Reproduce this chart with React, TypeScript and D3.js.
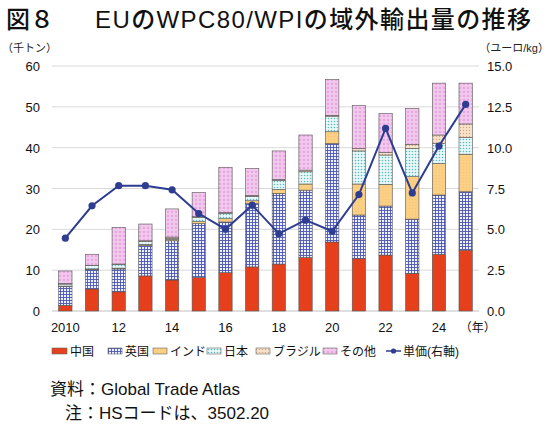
import React from 'react';
import * as d3 from 'd3';

const years = ['2010', '2011', '2012', '2013', '2014', '2015', '2016', '2017', '2018', '2019', '2020', '2021', '2022', '2023', '2024', '2025'];
const xTickLabels = ['2010', '', '12', '', '14', '', '16', '', '18', '', '20', '', '22', '', '24', ''];

// 千トン
const china = [1.4, 5.4, 4.7, 8.6, 7.6, 8.2, 9.4, 10.8, 11.5, 13.1, 16.9, 12.8, 13.7, 9.2, 13.9, 14.9];
const uk = [4.6, 4.7, 5.6, 7.4, 9.6, 13.2, 12.4, 15.5, 17.3, 16.5, 24.1, 10.7, 12.0, 13.3, 14.5, 14.3];
const india = [0.1, 0.2, 0.2, 0.3, 0.3, 0.5, 0.8, 0.7, 1.0, 1.5, 2.9, 7.6, 5.3, 10.4, 7.7, 9.2];
const japan = [0.5, 0.8, 0.9, 0.7, 0.2, 1.0, 1.3, 1.1, 2.2, 3.0, 3.7, 8.1, 7.2, 6.9, 4.9, 4.1];
const brazil = [0.1, 0.1, 0.1, 0.2, 0.4, 0.2, 0.2, 0.2, 0.2, 0.4, 0.3, 0.6, 0.6, 1.0, 2.1, 3.3];
const others = [3.1, 2.7, 9.0, 4.1, 6.9, 5.9, 11.1, 6.6, 7.0, 8.6, 8.8, 10.5, 9.6, 8.8, 12.7, 10.0];
// ユーロ/kg
const unitPrice = [4.46, 6.44, 7.67, 7.67, 7.42, 5.97, 5.01, 6.48, 4.74, 5.56, 4.88, 7.13, 11.18, 7.23, 10.1, 12.65];

const leftTicks = [0, 10, 20, 30, 40, 50, 60];
const rightTicks = [0, 2.5, 5, 7.5, 10, 12.5, 15];

const seriesNames = ['中国', '英国', 'インド', '日本', 'ブラジル', 'その他'];
const seriesData = [china, uk, india, japan, brazil, others];
const fills = ['#e5401b', 'url(#pUK)', 'url(#pIndia)', 'url(#pJapan)', 'url(#pBrazil)', 'url(#pOthers)'];

const FONT = '"Liberation Sans", "Noto Sans CJK JP", sans-serif';

export default function App() {
  const width = 550;
  const height = 426;
  const left = 52;
  const right = 479;
  const top = 66;
  const bottom = 311;

  const x = d3.scaleBand().domain(years).range([left, right]).paddingInner(0.5).paddingOuter(0.25);
  const y = d3.scaleLinear().domain([0, 60]).range([bottom, top]);
  const yR = d3.scaleLinear().domain([0, 15]).range([bottom, top]);

  const rows = years.map((yr, i) => {
    const r: any = { year: yr };
    seriesNames.forEach((n, k) => (r[n] = seriesData[k][i]));
    return r;
  });
  const stacked = d3.stack().keys(seriesNames)(rows);

  const line = d3
    .line<number>()
    .x((_, i) => (x(years[i]) as number) + x.bandwidth() / 2)
    .y((d) => yR(d));

  const legendItems = [
    { x: 52, w: 15, label: '中国' },
    { x: 108, w: 14, label: '英国' },
    { x: 153, w: 14, label: 'インド' },
    { x: 207, w: 14, label: '日本' },
    { x: 256, w: 14, label: 'ブラジル' },
    { x: 323, w: 14, label: 'その他' },
  ];

  return (
    <svg width={width} height={height} style={{ position: 'absolute', left: 0, top: 0, background: '#fff' }} fontFamily={FONT}>
      <defs>
        <pattern id="pUK" width="3" height="3" patternUnits="userSpaceOnUse">
          <rect width="3" height="3" fill="#eef0fb" />
          <path d="M0 0.5H3M0.5 0V3" stroke="#4b57b3" strokeWidth="0.9" />
        </pattern>
        <pattern id="pIndia" width="3" height="3" patternUnits="userSpaceOnUse">
          <rect width="3" height="3" fill="#fbcf84" />
          <circle cx="1.5" cy="1.5" r="0.4" fill="#f3b460" />
        </pattern>
        <pattern id="pJapan" width="3" height="3" patternUnits="userSpaceOnUse">
          <rect width="3" height="3" fill="#e9f8f8" />
          <circle cx="1.5" cy="1.5" r="0.8" fill="#5bbcc0" />
        </pattern>
        <pattern id="pBrazil" width="3" height="3" patternUnits="userSpaceOnUse">
          <rect width="3" height="3" fill="#f7e2cc" />
          <circle cx="1.5" cy="1.5" r="0.7" fill="#d7a57c" />
        </pattern>
        <pattern id="pOthers" width="4" height="4" patternUnits="userSpaceOnUse">
          <rect width="4" height="4" fill="#e9a6e2" />
          <path d="M0 2L2 0L4 2L2 4Z" fill="#fbe6f7" />
          <circle cx="2" cy="2" r="0.6" fill="#c86fc0" />
        </pattern>
      </defs>

      {/* title */}
      <text x={6} y={28} fontSize={24} fill="#111" fontWeight={500}>図８</text>
      <text x={95} y={28} fontSize={24} fill="#111" fontWeight={500} letterSpacing={1.4}>
        EUのWPC80/WPIの域外輸出量の推移
      </text>

      {/* axis units */}
      <text x={2} y={52} fontSize={11} fill="#222">（千トン）</text>
      <text x={549} y={52} fontSize={11} fill="#222" textAnchor="end">（ユーロ/kg）</text>

      {/* grid */}
      {leftTicks.map((t) => (
        <line key={t} x1={left} x2={right} y1={y(t)} y2={y(t)} stroke={t === 0 ? '#bfbfbf' : '#d9d9d9'} strokeWidth={1} />
      ))}

      {/* left ticks */}
      {leftTicks.map((t) => (
        <text key={t} x={40} y={y(t) + 5} fontSize={13} textAnchor="end" fill="#111">
          {t}
        </text>
      ))}
      {/* right ticks */}
      {rightTicks.map((t) => (
        <text key={t} x={487} y={yR(t) + 5} fontSize={13} fill="#111">
          {t.toFixed(1)}
        </text>
      ))}

      {/* bars */}
      {stacked.map((s, k) => (
        <g key={s.key}>
          {s.map((d, i) => (
            <rect
              key={i}
              x={x(years[i])}
              width={x.bandwidth()}
              y={y(d[1])}
              height={Math.max(0, y(d[0]) - y(d[1]))}
              fill={fills[k]}
              stroke="#555"
              strokeWidth={0.6}
            />
          ))}
        </g>
      ))}

      {/* x labels */}
      {years.map((yr, i) =>
        xTickLabels[i] ? (
          <text key={yr} x={(x(yr) as number) + x.bandwidth() / 2} y={332} fontSize={13} textAnchor="middle" fill="#111">
            {xTickLabels[i]}
          </text>
        ) : null
      )}
      <text x={(x('2025') as number) + x.bandwidth() / 2 + 12} y={332} fontSize={12} textAnchor="middle" fill="#111">（年）</text>

      {/* price line */}
      <path d={line(unitPrice) || ''} fill="none" stroke="#2e3d91" strokeWidth={2} />
      {unitPrice.map((v, i) => (
        <circle key={i} cx={(x(years[i]) as number) + x.bandwidth() / 2} cy={yR(v)} r={3.6} fill="#2e3d91" />
      ))}

      {/* legend */}
      {legendItems.map((it, k) => (
        <g key={it.label}>
          <rect x={it.x} y={348} width={it.w} height={6} fill={fills[k]} stroke="#666" strokeWidth={0.6} />
          <text x={it.x + it.w + 3} y={356} fontSize={12} fill="#111">{it.label}</text>
        </g>
      ))}
      <line x1={386} x2={401} y1={351} y2={351} stroke="#2e3d91" strokeWidth={1.5} />
      <circle cx={393.5} cy={351} r={2.6} fill="#2e3d91" />
      <text x={403} y={356} fontSize={12} fill="#111">単価(右軸)</text>

      {/* source */}
      <text x={50} y={395} fontSize={17} fill="#111">資料：Global Trade Atlas</text>
      <text x={65} y={419} fontSize={17} fill="#111">注：HSコードは、3502.20</text>
    </svg>
  );
}
